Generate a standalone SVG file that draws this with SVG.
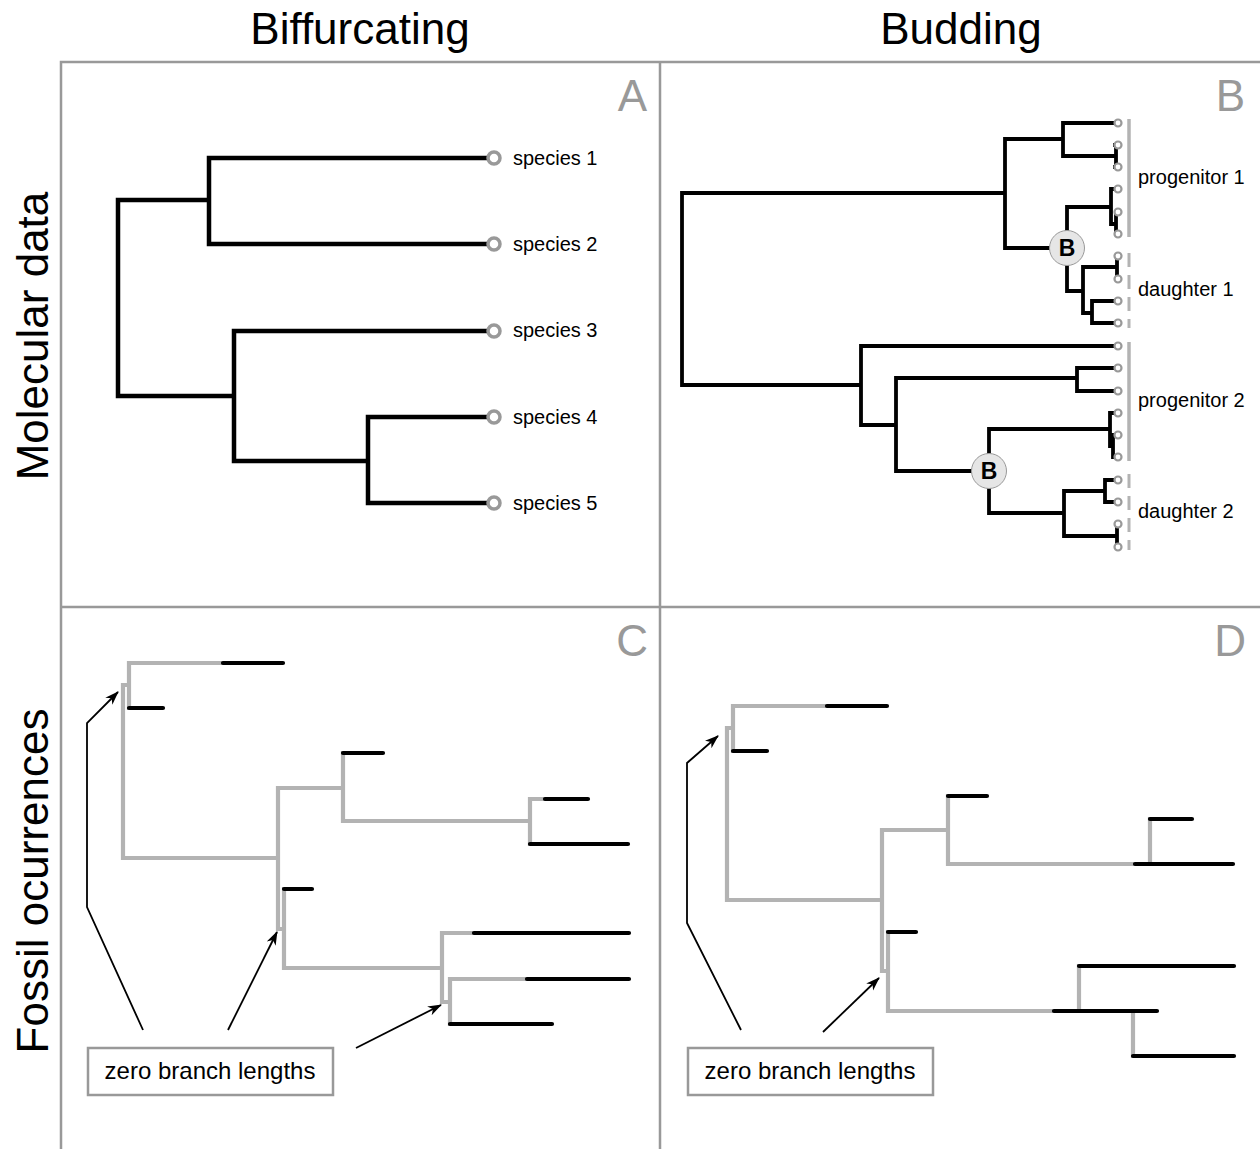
<svg xmlns="http://www.w3.org/2000/svg" width="1260" height="1149" viewBox="0 0 1260 1149">
<style>
text{font-family:"Liberation Sans",Arial,sans-serif;fill:#000}
.title{font-size:44px;text-anchor:middle}
.plab{font-size:44px;fill:#999;text-anchor:end}
.lab{font-size:20px}
.frame{stroke:#999;stroke-width:2.5;fill:none}
.tree{stroke:#000;stroke-width:4.5;fill:none;stroke-linejoin:miter;stroke-linecap:square}
.treeb{stroke:#000;stroke-width:3.8;fill:none;stroke-linecap:square}
.tipA{fill:#fff;stroke:#999;stroke-width:3.5}
.tipB{fill:#fff;stroke:#999;stroke-width:2.2}
.bar{stroke:#b3b3b3;stroke-width:3.5}
.dash{stroke:#b3b3b3;stroke-width:3;stroke-dasharray:14 8}
.g{stroke:#b3b3b3;stroke-width:4.2;fill:none;stroke-linecap:square}
.f{stroke:#000;stroke-width:4.2;fill:none;stroke-linecap:round}
.arr{stroke:#000;stroke-width:1.8;fill:none}
.box{fill:#fff;stroke:#999;stroke-width:2.5}
.bnode{fill:#e6e6e6;stroke:#999;stroke-width:1}
.btxt{font-size:23px;font-weight:bold;text-anchor:middle}
</style>
<defs>
<marker id="ah" viewBox="0 0 14 12" refX="13" refY="6" markerWidth="14" markerHeight="12" markerUnits="userSpaceOnUse" orient="auto">
<path d="M0,1 L14,6 L0,11 L4,6 Z" fill="#000"/>
</marker>
</defs>
<g id="frame">
<path class="frame" d="M61,1149 V62 H1260 M660,62 V1149 M61,607 H1260"/>
</g>
<g id="titles">
<text class="title" x="360" y="44">Biffurcating</text>
<text class="title" x="961" y="44">Budding</text>
<text class="title" transform="translate(48,336) rotate(-90)">Molecular data</text>
<text class="title" transform="translate(48,881) rotate(-90)">Fossil ocurrences</text>
<text class="plab" x="647" y="111">A</text>
<text class="plab" x="1245" y="111">B</text>
<text class="plab" x="648" y="656">C</text>
<text class="plab" x="1246" y="656">D</text>
</g>
<g id="connectors">
<path class="tree" d="M209,200 H118 V396 H234 M209,158 V244 M209,158 H489 M209,244 H489 M234,331 V461 M234,331 H489 M234,461 H368 M368,417 V503 M368,417 H489 M368,503 H489"/>
<path class="treeb" d="M1005,193 H682 V385 H861 M1005,139 V248 H1050 M1005,139 H1063 M1063,123 V156 M1063,123 H1115 M1063,156 H1116 M1116,145 V167 M1116,145 H1115 M1116,167 H1115 M1067,231 V207 H1111 M1111,189 V224 H1116 M1111,189 H1115 M1116,212 V234 M1067,265 V291 H1083 M1083,267 V313 M1083,267 H1117 M1117,256 V279 M1083,313 H1092 M1092,301 V323 M1092,301 H1115 M1092,323 H1115 M861,346 V425 H896 M861,346 H1115 M896,378 V471 H972 M896,378 H1077 M1077,368 V391 M1077,368 H1115 M1077,391 H1115 M989,454 V429 H1110 M1110,413 V446 H1113 M1110,413 H1115 M1113,435 V457 M989,488 V513 H1064 M1064,491 V536 M1064,491 H1105 M1105,480 V502 M1105,480 H1115 M1105,502 H1115 M1064,536 H1117 M1117,524 V547"/>
<polyline class="arr" points="143,1030 87,907 87,723 118,692" marker-end="url(#ah)"/>
<line class="arr" x1="228" y1="1030" x2="277" y2="932" marker-end="url(#ah)"/>
<line class="arr" x1="356" y1="1048" x2="441" y2="1005" marker-end="url(#ah)"/>
<polyline class="arr" points="741,1030 687,923 687,763 718,736" marker-end="url(#ah)"/>
<line class="arr" x1="823" y1="1032" x2="879" y2="978" marker-end="url(#ah)"/>
</g>
<g id="tipsA">
<circle class="tipA" cx="494" cy="158" r="6"/>
<circle class="tipA" cx="494" cy="244" r="6"/>
<circle class="tipA" cx="494" cy="331" r="6"/>
<circle class="tipA" cx="494" cy="417" r="6"/>
<circle class="tipA" cx="494" cy="503" r="6"/>
<text class="lab" x="513" y="165">species 1</text>
<text class="lab" x="513" y="251">species 2</text>
<text class="lab" x="513" y="337">species 3</text>
<text class="lab" x="513" y="424">species 4</text>
<text class="lab" x="513" y="510">species 5</text>
</g>
<g id="tipsB">
<circle class="tipB" cx="1118" cy="123" r="3.5"/>
<circle class="tipB" cx="1118" cy="145" r="3.5"/>
<circle class="tipB" cx="1118" cy="167" r="3.5"/>
<circle class="tipB" cx="1118" cy="189" r="3.5"/>
<circle class="tipB" cx="1118" cy="212" r="3.5"/>
<circle class="tipB" cx="1118" cy="234" r="3.5"/>
<circle class="tipB" cx="1118" cy="256" r="3.5"/>
<circle class="tipB" cx="1118" cy="279" r="3.5"/>
<circle class="tipB" cx="1118" cy="301" r="3.5"/>
<circle class="tipB" cx="1118" cy="323" r="3.5"/>
<circle class="tipB" cx="1118" cy="346" r="3.5"/>
<circle class="tipB" cx="1118" cy="368" r="3.5"/>
<circle class="tipB" cx="1118" cy="391" r="3.5"/>
<circle class="tipB" cx="1118" cy="413" r="3.5"/>
<circle class="tipB" cx="1118" cy="435" r="3.5"/>
<circle class="tipB" cx="1118" cy="457" r="3.5"/>
<circle class="tipB" cx="1118" cy="480" r="3.5"/>
<circle class="tipB" cx="1118" cy="502" r="3.5"/>
<circle class="tipB" cx="1118" cy="524" r="3.5"/>
<circle class="tipB" cx="1118" cy="547" r="3.5"/>
</g>
<g id="groupsB">
<line class="bar" x1="1129" y1="119" x2="1129" y2="237"/>
<line class="dash" x1="1129" y1="253" x2="1129" y2="328"/>
<line class="bar" x1="1129" y1="342" x2="1129" y2="461"/>
<line class="dash" x1="1129" y1="474" x2="1129" y2="550"/>
<text class="lab" x="1138" y="184">progenitor 1</text>
<text class="lab" x="1138" y="296">daughter 1</text>
<text class="lab" x="1138" y="407">progenitor 2</text>
<text class="lab" x="1138" y="518">daughter 2</text>
</g>
<g id="budB1">
<circle class="bnode" cx="1067" cy="248" r="17.5"/>
<text class="btxt" x="1067" y="256">B</text>
</g>
<g id="budB2">
<circle class="bnode" cx="989" cy="471" r="17.5"/>
<text class="btxt" x="989" y="479">B</text>
</g>
<g id="treeC">
<path class="g" d="M129,663 V708 M129,663 H223 M123,685 H129 M123,685 V858 H277 M278,788 V929 H284 M284,889 V968 M278,788 H343 M343,753 V821 H530 M530,799 V844 M530,799 H545 M284,968 H442 M442,933 V1002 H450 M442,933 H474 M450,979 V1024 M450,979 H527"/>
<path class="f" d="M223,663 H283 M129,708 H163 M343,753 H383 M545,799 H588 M530,844 H628 M284,889 H312 M474,933 H629 M527,979 H629 M450,1024 H552"/>
</g>
<g id="treeD">
<path class="g" d="M733,706 V751 M733,706 H827 M727,728 H733 M727,728 V900 H882 M882,830 V971 H888 M888,932 V1011 M882,830 H948 M948,796 V864 H1135 M1150,819 V864 M888,1011 H1054 M1079,966 V1011 M1133,1011 V1056"/>
<path class="f" d="M827,706 H887 M733,751 H767 M948,796 H987 M1135,864 H1233 M1150,819 H1192 M888,932 H916 M1054,1011 H1157 M1079,966 H1234 M1133,1056 H1234"/>
</g>
<g id="labelC">
<rect class="box" x="88" y="1048" width="245" height="47"/>
<text x="210" y="1079" style="font-size:24px;text-anchor:middle">zero branch lengths</text>
</g>
<g id="labelD">
<rect class="box" x="688" y="1048" width="245" height="47"/>
<text x="810" y="1079" style="font-size:24px;text-anchor:middle">zero branch lengths</text>
</g>
</svg>
